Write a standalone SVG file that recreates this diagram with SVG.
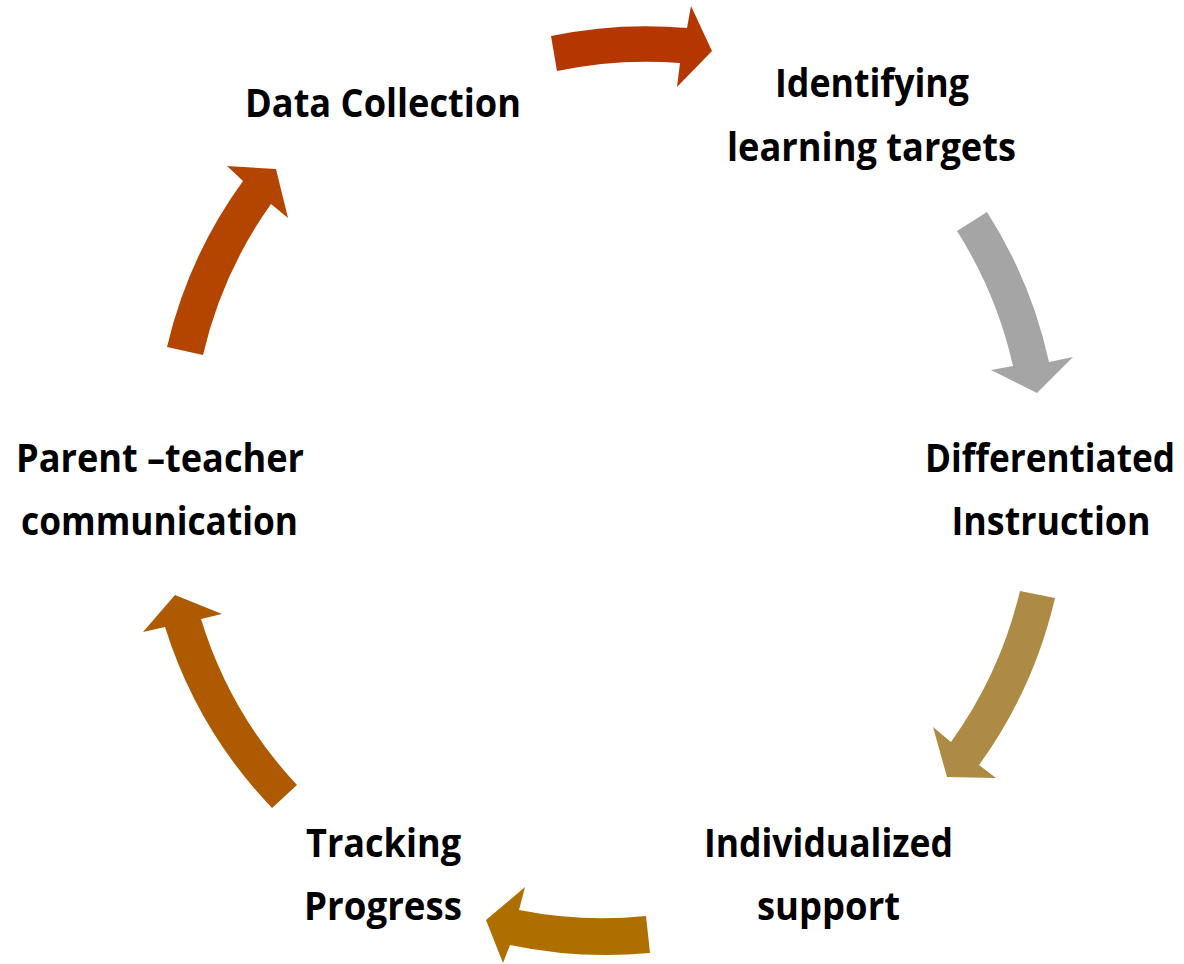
<svg xmlns="http://www.w3.org/2000/svg" width="1184" height="964" viewBox="0 0 1184 964">
  <style>
    .lbl { font-family: "Open Sans", "Noto Sans", "Liberation Sans", sans-serif; font-weight: 700; font-size: 40px; fill: #000; text-anchor: middle; }
  </style>
  <rect width="1184" height="964" fill="#fff"/>

  <!-- curved block arrows around the cycle -->
  <g id="connectors">
    <path id="arrow-data-to-targets" fill="#B43700" d="M 551 36 A 462 462 0 0 1 687 28 L 691 6 L 712 51 L 677 87 L 680 63 A 428 428 0 0 0 557 71 Z"/>
    <path id="arrow-targets-to-instruction" fill="#A5A5A5" d="M 987 212 A 462 462 0 0 1 1049 362 L 1073 357 L 1037 393 L 991 370 L 1013 366 A 428 428 0 0 0 957 231 Z"/>
    <path id="arrow-instruction-to-support" fill="#AE8B45" d="M 1055 598 A 463 463 0 0 1 979 765 L 996 778 L 947 777 L 933 727 L 951 742 A 428 428 0 0 0 1020 591 Z"/>
    <path id="arrow-support-to-tracking" fill="#AD6F00" d="M 650 953 A 465 465 0 0 1 510 945 L 503 963 L 486 920 L 525 887 L 519 910 A 428 428 0 0 0 646 916 Z"/>
    <path id="arrow-tracking-to-parent" fill="#AE5A00" d="M 272 808 A 462 462 0 0 1 165 627 L 143 632 L 175 595 L 222 614 L 201 619 A 426 426 0 0 0 297 785 Z"/>
    <path id="arrow-parent-to-data" fill="#B34500" d="M 167 347 A 462 462 0 0 1 243 181 L 227 166 L 276 169 L 288 218 L 271 204 A 428 428 0 0 0 203 355 Z"/>
  </g>

  <g id="node-data-collection">
    <text class="lbl" x="383" y="117" textLength="276" lengthAdjust="spacingAndGlyphs">Data Collection</text>
  </g>
  <g id="node-learning-targets">
    <text class="lbl" x="872" y="97" textLength="194" lengthAdjust="spacingAndGlyphs">Identifying</text>
    <text class="lbl" x="871.5" y="161" textLength="289" lengthAdjust="spacingAndGlyphs">learning targets</text>
  </g>
  <g id="node-differentiated">
    <text class="lbl" x="1050" y="472" textLength="250" lengthAdjust="spacingAndGlyphs">Differentiated</text>
    <text class="lbl" x="1051" y="535" textLength="199" lengthAdjust="spacingAndGlyphs">Instruction</text>
  </g>
  <g id="node-individualized">
    <text class="lbl" x="828.5" y="857" textLength="249" lengthAdjust="spacingAndGlyphs">Individualized</text>
    <text class="lbl" x="828.5" y="920" textLength="143" lengthAdjust="spacingAndGlyphs">support</text>
  </g>
  <g id="node-tracking">
    <text class="lbl" x="383.5" y="857" textLength="155" lengthAdjust="spacingAndGlyphs">Tracking</text>
    <text class="lbl" x="383" y="920" textLength="158" lengthAdjust="spacingAndGlyphs">Progress</text>
  </g>
  <g id="node-parent-teacher">
    <text class="lbl" x="160" y="472" textLength="288" lengthAdjust="spacingAndGlyphs">Parent –teacher</text>
    <text class="lbl" x="159.5" y="535" textLength="277" lengthAdjust="spacingAndGlyphs">communication</text>
  </g>
</svg>
